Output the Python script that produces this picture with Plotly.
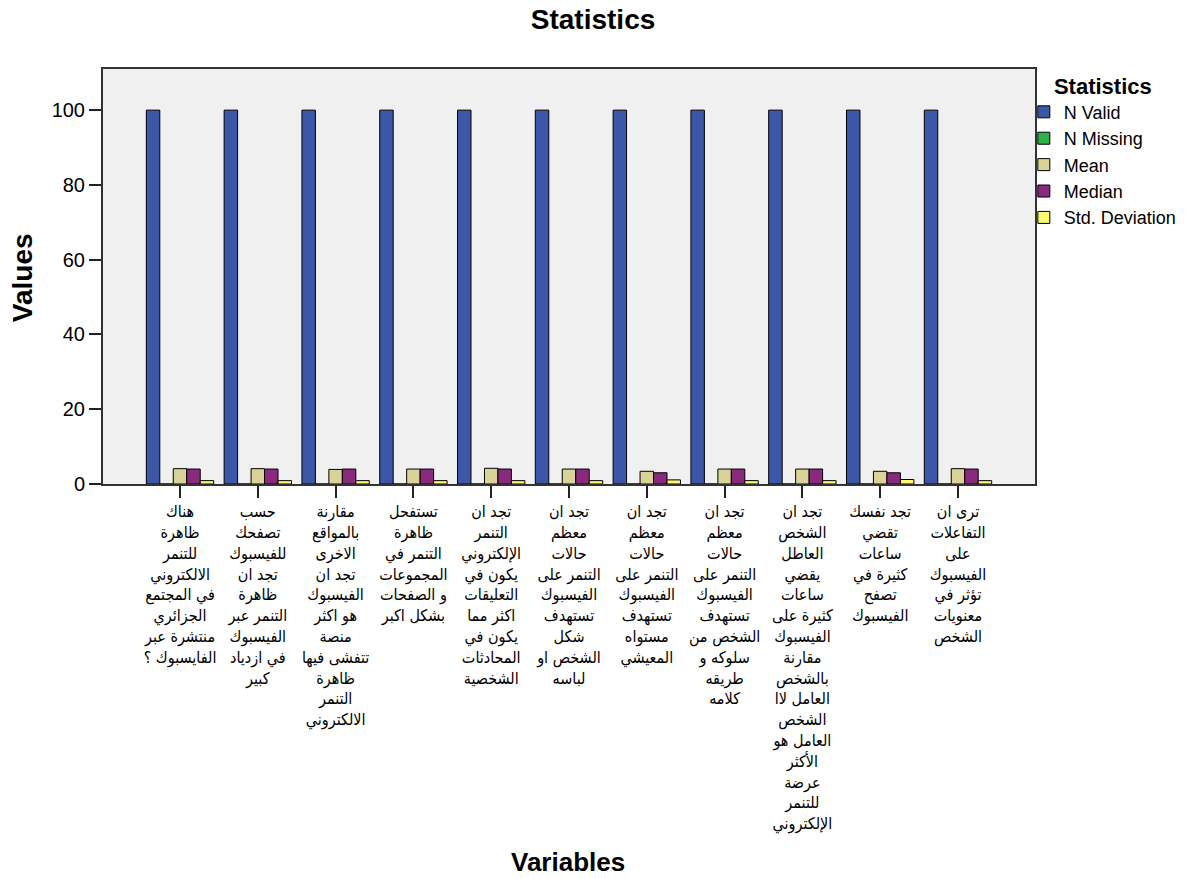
import plotly.graph_objects as go

categories = [
    "هناك<br>ظاهرة<br>للتنمر<br>الالكتروني<br>في المجتمع<br>الجزائري<br>منتشرة عبر<br>الفايسبوك ؟",
    "حسب<br>تصفحك<br>للفيسبوك<br>تجد ان<br>ظاهرة<br>التنمر عبر<br>الفيسبوك<br>في ازدياد<br>كبير",
    "مقارنة<br>بالمواقع<br>الاخرى<br>تجد ان<br>الفيسبوك<br>هو اكثر<br>منصة<br>تتفشى فيها<br>ظاهرة<br>التنمر<br>الالكتروني",
    "تستفحل<br>ظاهرة<br>التنمر في<br>المجموعات<br>و الصفحات<br>بشكل اكبر",
    "تجد ان<br>التنمر<br>الإلكتروني<br>يكون في<br>التعليقات<br>اكثر مما<br>يكون في<br>المحادثات<br>الشخصية",
    "تجد ان<br>معظم<br>حالات<br>التنمر على<br>الفيسبوك<br>تستهدف<br>شكل<br>الشخص او<br>لباسه",
    "تجد ان<br>معظم<br>حالات<br>التنمر على<br>الفيسبوك<br>تستهدف<br>مستواه<br>المعيشي",
    "تجد ان<br>معظم<br>حالات<br>التنمر على<br>الفيسبوك<br>تستهدف<br>الشخص من<br>سلوكه و<br>طريقه<br>كلامه",
    "تجد ان<br>الشخص<br>العاطل<br>يقضي<br>ساعات<br>كثيرة على<br>الفيسبوك<br>مقارنة<br>بالشخص<br>العامل لاا<br>الشخص<br>العامل هو<br>الأكثر<br>عرضة<br>للتنمر<br>الإلكتروني",
    "تجد نفسك<br>تقضي<br>ساعات<br>كثيرة في<br>تصفح<br>الفيسبوك",
    "ترى ان<br>التفاعلات<br>على<br>الفيسبوك<br>تؤثر في<br>معنويات<br>الشخص",
]

n_valid = [100, 100, 100, 100, 100, 100, 100, 100, 100, 100, 100]
n_missing = [0, 0, 0, 0, 0, 0, 0, 0, 0, 0, 0]
mean = [4.1, 4.1, 3.9, 4.0, 4.2, 4.0, 3.4, 4.0, 4.0, 3.4, 4.1]
median = [4, 4, 4, 4, 4, 4, 3, 4, 4, 3, 4]
std_dev = [0.9, 0.9, 0.9, 0.9, 0.9, 0.9, 1.1, 0.9, 0.9, 1.2, 0.9]

series = [
    ("N Valid", n_valid, "#3C56A8"),
    ("N Missing", n_missing, "#30B24A"),
    ("Mean", mean, "#D9D398"),
    ("Median", median, "#8A2A7F"),
    ("Std. Deviation", std_dev, "#FBF872"),
]

x_idx = list(range(len(categories)))

fig = go.Figure()
for name, vals, color in series:
    fig.add_trace(go.Bar(
        x=x_idx, y=vals, name=name,
        marker=dict(color=color, line=dict(color="#000000", width=1)),
    ))

fig.update_layout(
    width=1201, height=879,
    margin=dict(l=103, r=166, t=69, b=395, autoexpand=False),
    paper_bgcolor="#FFFFFF",
    plot_bgcolor="#F0F0F0",
    barmode="group",
    bargap=0.134,
    bargroupgap=0,
    font=dict(family="Liberation Sans, Arial, DejaVu Sans", color="#000000", size=14),
    title=dict(text="<b>Statistics</b>", x=0.4938, xanchor="center", y=0.978, yanchor="middle",
               font=dict(size=28)),
    showlegend=True,
    legend=dict(
        title=dict(text="<b>Statistics</b>", font=dict(size=22), side="top center"),
        x=0.988, xanchor="left", y=1.0096, yanchor="top",
        font=dict(size=18),
        tracegroupgap=0,
        bgcolor="rgba(0,0,0,0)",
    ),
    xaxis=dict(
        tickmode="array", tickvals=x_idx, ticktext=categories,
        range=[-0.99, 10.99], tickangle=0,
        ticks="outside", ticklen=12, tickcolor="#222222", tickwidth=1.5,
        showline=True, linecolor="#333333", linewidth=2, mirror=True,
        showgrid=False, zeroline=False,
        tickfont=dict(size=16, family="DejaVu Sans Condensed, DejaVu Sans"),
    ),
    yaxis=dict(
        range=[0, 111], tickvals=[0, 20, 40, 60, 80, 100],
        ticks="outside", ticklen=12, tickcolor="#222222", tickwidth=1.5,
        showline=True, linecolor="#333333", linewidth=2, mirror=True,
        showgrid=False, zeroline=False,
        tickfont=dict(size=20),
    ),
    annotations=[
        dict(text="<b>Values</b>", xref="paper", yref="paper", x=-0.0869, y=0.496,
             xanchor="center", yanchor="middle", textangle=-90, showarrow=False,
             font=dict(size=28)),
        dict(text="<b>Variables</b>", xref="paper", yref="paper", x=0.499, y=-0.911,
             xanchor="center", yanchor="middle", showarrow=False,
             font=dict(size=26)),
    ],
)

fig.write_html(
    "out.html",
    config={"displayModeBar": False},
    post_script="document.body.style.margin='0';document.body.style.overflow='hidden';",
)
